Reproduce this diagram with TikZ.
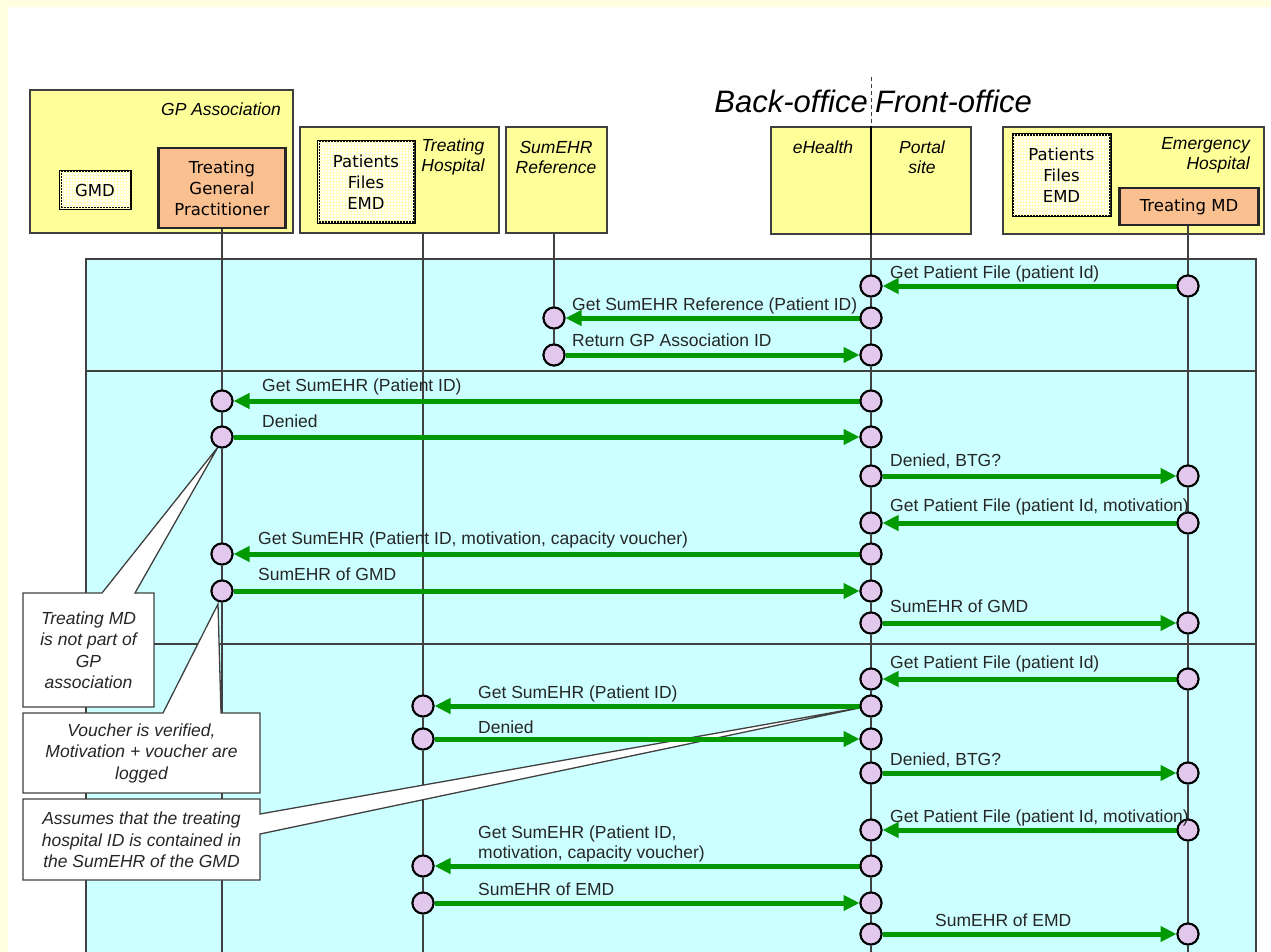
\documentclass[tikz,border=0pt]{standalone}
\usepackage{fontspec}
\setmainfont{Liberation Sans}
\newfontfamily\boxfont{DejaVu Sans}
\usetikzlibrary{arrows.meta,patterns}

\definecolor{pagebg}{HTML}{FFFFE0}
\definecolor{actorbg}{HTML}{FFFF99}
\definecolor{mdbg}{HTML}{FAC090}
\definecolor{lanebg}{HTML}{CCFFFF}
\definecolor{msggreen}{HTML}{009900}
\definecolor{dotbg}{HTML}{E2C8EC}
\definecolor{rulegray}{HTML}{404040}

\newcommand{\msgsize}{\fontsize{17.5}{20}\selectfont}
\newcommand{\boxsize}{\boxfont\fontsize{16.5}{21}\selectfont}

\tikzset{
  actor/.style={draw=rulegray, line width=1.5pt, fill=actorbg},
  mdbox/.style={draw=black!85, line width=2.5pt, fill=mdbg, align=center, font=\boxsize},
  store/.style={draw=black, line width=3pt, fill=white, postaction={pattern=grid, pattern color=yellow!25}, align=center, font=\boxsize},
  hdr/.style={font=\msgsize\itshape, align=center, inner sep=0pt},
  life/.style={draw=rulegray, line width=1.3pt},
  sep/.style={draw=rulegray, line width=1.5pt},
  note/.style={draw=rulegray, line width=1.3pt, fill=white},
  notetext/.style={font=\fontsize{17.5}{21.5}\selectfont\itshape, align=center, text=black!85},
  dot/.style={circle, draw=black, line width=2pt, fill=dotbg, minimum size=21pt, inner sep=0pt},
  msg/.style={draw=msggreen, line width=5pt, -{Triangle[length=16pt,width=15pt]}},
  lbl/.style={font=\msgsize, anchor=base west, inner sep=0pt, text=black!85}
}

\begin{document}
\begin{tikzpicture}[x=1pt,y=-1pt]
\fill[pagebg] (0,0) rectangle (1271,952);
\fill[white] (8,7) rectangle (1271,952);
\clip (0,0) rectangle (1271,952);
\coordinate (bot) at (0,952);

% lanes
\draw[rulegray, line width=1.5pt, fill=lanebg] (86,259) rectangle (1256,970);
\draw[sep] (86,371) -- (1256,371);
\draw[sep] (86,644) -- (1256,644);

% title
\draw[rulegray, line width=1pt, dash pattern=on 4pt off 3pt] (871,77) -- (871,127);
\node[font=\fontsize{31}{36}\selectfont\itshape, anchor=base east, inner sep=0pt] (back) at (868,113) {Back-office};
\node[font=\fontsize{31}{36}\selectfont\itshape, anchor=base west, inner sep=0pt] (front) at (875,113) {Front-office};

% actors
\node[actor, minimum width=263pt, minimum height=143pt] (gpa) at (161.5,161.5) {};
\node[hdr, anchor=east] at (281,109) {GP Association};
\node[store, minimum width=70pt, minimum height=37pt] (gmd) at (95,190.5) {GMD};
\node[mdbox, minimum width=127pt, minimum height=80pt] (tgp) at (222,188) {Treating\\General\\Practitioner};

\node[actor, minimum width=199pt, minimum height=106pt] (th) at (399.5,180) {};
\node[store, minimum width=96pt, minimum height=80pt] (thfiles) at (366,182) {Patients\\Files\\EMD};
\node[hdr] at (453,157) {Treating\\Hospital};

\node[actor, minimum width=101pt, minimum height=106pt] (ref) at (556.5,180) {};
\node[hdr] at (556,157) {SumEHR\\Reference};

\node[actor, minimum width=200pt, minimum height=107pt] (po) at (871,180.5) {};
\draw[black, line width=2.5pt] (po.north) -- (po.south);
\node[hdr] at (823,147) {eHealth};
\node[hdr] at (922,157.5) {Portal\\site};

\node[actor, minimum width=261pt, minimum height=107pt] (em) at (1133.5,180.5) {};
\node[store, minimum width=97pt, minimum height=80pt] (emfiles) at (1061.5,175) {Patients\\Files\\EMD};
\node[mdbox, minimum width=139pt, minimum height=37pt] (tmd) at (1189,206.5) {Treating MD};
\node[hdr, anchor=north east, align=right] at (1250,137) {Emergency\\Hospital};

% dots on the life lines
\foreach \n/\y in {1/286,2/318,3/355,4/401,5/437,6/476,7/523,8/554,9/591,10/623,11/679,12/706,13/739,14/773,15/830,16/866,17/903,18/934}
  \node[dot] (po\n) at (871,\y) {};
\foreach \n/\y in {1/286,6/476,7/523,10/623,11/679,14/773,15/830,18/934}
  \node[dot] (em\n) at (1188,\y) {};
\foreach \n/\y in {2/318,3/355}
  \node[dot] (ref\n) at (554,\y) {};
\foreach \n/\y in {4/401,5/437,8/554,9/591}
  \node[dot] (gp\n) at (222,\y) {};
\foreach \n/\y in {12/706,13/739,16/866,17/903}
  \node[dot] (th\n) at (423,\y) {};

% life lines
\path[life] (tgp.south) -- (gp4.north) (gp4.south) -- (gp5.north) (gp5.south) -- (gp8.north) (gp8.south) -- (gp9.north) (gp9.south) -- (gp9 |- bot);
\path[life] (th.south -| th12) -- (th12.north) (th12.south) -- (th13.north) (th13.south) -- (th16.north) (th16.south) -- (th17.north) (th17.south) -- (th17 |- bot);
\path[life] (ref.south -| ref2) -- (ref2.north) (ref2.south) -- (ref3.north);
\path[life] (po.south) -- (po1.north) (po18.south) -- (po18 |- bot);
\foreach \a/\b in {1/2,2/3,3/4,4/5,5/6,6/7,7/8,8/9,9/10,10/11,11/12,12/13,13/14,14/15,15/16,16/17,17/18}
  \path[life] (po\a.south) -- (po\b.north);
\path[life] (tmd.south -| em1) -- (em1.north) (em18.south) -- (em18 |- bot);
\foreach \a/\b in {1/6,6/7,7/10,10/11,11/14,14/15,15/18}
  \path[life] (em\a.south) -- (em\b.north);

% notes
\draw[note] (23,593) -- (102,593) -- (218,447) -- (135,593) -- (154,593) -- (154,707) -- (23,707) -- cycle;
\node[notetext] (noteA) at (88.5,650) {Treating MD\\is not part of\\GP\\association};
\draw[note] (23,713) -- (163,713) -- (218,604) -- (221,713) -- (260,713) -- (260,793) -- (23,793) -- cycle;
\node[notetext] (noteB) at (141.5,753) {Voucher is verified,\\Motivation + voucher are\\logged};
\draw[note] (23,799) -- (260,799) -- (260,814) -- (864,707) -- (260,834) -- (260,880) -- (23,880) -- cycle;
\node[notetext] (noteC) at (141.5,840) {Assumes that the treating\\hospital ID is contained in\\the SumEHR of the GMD};

% messages
\draw[msg] (em1) -- (po1);
\draw[msg] (po2) -- (ref2);
\draw[msg] (ref3) -- (po3);
\draw[msg] (po4) -- (gp4);
\draw[msg] (gp5) -- (po5);
\draw[msg] (po6) -- (em6);
\draw[msg] (em7) -- (po7);
\draw[msg] (po8) -- (gp8);
\draw[msg] (gp9) -- (po9);
\draw[msg] (po10) -- (em10);
\draw[msg] (em11) -- (po11);
\draw[msg] (po12) -- (th12);
\draw[msg] (th13) -- (po13);
\draw[msg] (po14) -- (em14);
\draw[msg] (em15) -- (po15);
\draw[msg] (po16) -- (th16);
\draw[msg] (th17) -- (po17);
\draw[msg] (po18) -- (em18);

% redraw dots over the arrows
\foreach \n in {1,...,18} \node[dot] at (po\n) {};
\foreach \n in {1,6,7,10,11,14,15,18} \node[dot] at (em\n) {};
\foreach \n in {2,3} \node[dot] at (ref\n) {};
\foreach \n in {4,5,8,9} \node[dot] at (gp\n) {};
\foreach \n in {12,13,16,17} \node[dot] at (th\n) {};

% labels
\node[lbl] (l1) at (890,278) {Get Patient File (patient Id)};
\node[lbl] (l2) at (572,310) {Get SumEHR Reference (Patient ID)};
\node[lbl] (l3) at (572,346) {Return GP Association ID};
\node[lbl] (l4) at (262,391) {Get SumEHR (Patient ID)};
\node[lbl] (l5) at (262,427) {Denied};
\node[lbl] (l6) at (890,466) {Denied, BTG?};
\node[lbl] (l7) at (890,511) {Get Patient File (patient Id, motivation)};
\node[lbl] (l8) at (258,544) {Get SumEHR (Patient ID, motivation, capacity voucher)};
\node[lbl] (l9) at (258,580) {SumEHR of GMD};
\node[lbl] (l10) at (890,612) {SumEHR of GMD};
\node[lbl] (l11) at (890,668) {Get Patient File (patient Id)};
\node[lbl] (l12) at (478,698) {Get SumEHR (Patient ID)};
\node[lbl] (l13) at (478,733) {Denied};
\node[lbl] (l14) at (890,765) {Denied, BTG?};
\node[lbl] (l15) at (890,822) {Get Patient File (patient Id, motivation)};
\node[lbl, anchor=north west, align=left] (l16) at (478,826) {Get SumEHR (Patient ID,\\motivation, capacity voucher)};
\node[lbl] (l17) at (478,895) {SumEHR of EMD};
\node[lbl] (l18) at (935,926) {SumEHR of EMD};
\end{tikzpicture}
\end{document}
